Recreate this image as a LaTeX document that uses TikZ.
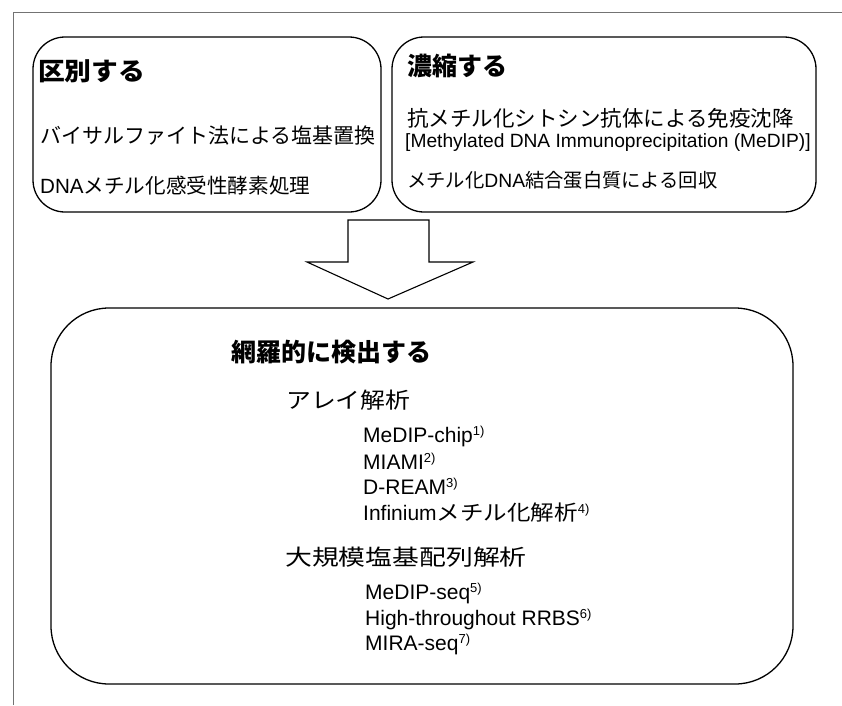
\documentclass[tikz,border=0pt]{standalone}
\usepackage{fontspec}
\setmainfont{Liberation Sans}
\newfontfamily\jp{Noto Sans CJK JP}
\newcommand\fs[1]{\fontsize{#1}{#1}\selectfont}
\newcommand\sref[1]{\raisebox{7pt}{\fontsize{13}{13}\selectfont #1)}}
\newcommand\jpst[2]{{\jp\addfontfeature{FakeStretch=#1}#2}}
\begin{document}
\begin{tikzpicture}[x=1pt,y=-1pt,
  box/.style={draw=black, line width=1.3pt, rounded corners=#1, inner sep=0pt},
  frame/.style={draw=black!55, line width=0.8pt},
  txt/.style={anchor=base west, inner sep=0pt, text=black},
  blockarrow/.style={draw=black, line width=1.1pt, line join=miter, fill=white}
]
\useasboundingbox (0,0) rectangle (842,705);
% outer frame (only top and left edges visible)
\draw[frame] (13,705) -- (13,12) -- (842,12);

% boxes
\node[box=32pt, minimum width=348pt, minimum height=175pt] (L) at (207,124.5) {};
\node[box=32pt, minimum width=424pt, minimum height=175pt] (R) at (604,124.5) {};
\node[box=58pt, minimum width=742pt, minimum height=376pt] (B) at (422,496) {};

% block arrow
\coordinate (a1) at (348,220);
\coordinate (a2) at (429,220);
\coordinate (a3) at (429,262);
\coordinate (a4) at (473,262);
\coordinate (tip) at (388,299);
\coordinate (a6) at (307,262);
\coordinate (a7) at (348,262);
\draw[blockarrow] (a1) -- (a2) -- (a3) -- (a4) -- (tip) -- (a6) -- (a7) -- cycle;

% left box texts
\node[txt] (l0) at (38,80) {\jp\bfseries\fs{25}\addfontfeature{FakeStretch=1.07}区別する};
\node[txt] (l1) at (40,143) {\jp\fs{21}バイサルファイト法による塩基置換};
\node[txt] (l2) at (40,193) {\fs{20.6}DNA{\jp メチル化感受性酵素処理}};

% right box texts
\node[txt] (r0) at (407,75) {\jp\bfseries\fs{25}濃縮する};
\node[txt] (r1) at (407,126) {\jp\fs{21.5}抗メチル化シトシン抗体による免疫沈降};
\node[txt] (r2) at (405,147) {\fs{19.2}[Methylated DNA Immunoprecipitation (MeDIP)]};
\node[txt] (r3) at (407,187.5) {\fs{19.3}{\jp メチル化}DNA{\jp 結合蛋白質による回収}};

% bottom box texts
\node[txt] (b0) at (231,361) {\jp\bfseries\fs{25}網羅的に検出する};
\node[txt] (b1) at (286,408) {\fs{22}\jpst{1.13}{アレイ解析}};
\node[txt] (b2) at (363,442.5) {\fs{21}MeDIP-chip\sref{1}};
\node[txt] (b3) at (363,469.5) {\fs{21}MIAMI\sref{2}};
\node[txt] (b4) at (363,494.5) {\fs{21}D-REAM\sref{3}};
\node[txt] (b5) at (363,520.5) {\fs{21}Infinium\jpst{1.12}{メチル化解析}\sref{4}};
\node[txt] (b6) at (285,565) {\fs{22}\jpst{1.22}{大規模塩基配列解析}};
\node[txt] (b7) at (365,599.5) {\fs{21}MeDIP-seq\sref{5}};
\node[txt] (b8) at (365,625.5) {\fs{21}High-throughout RRBS\sref{6}};
\node[txt] (b9) at (365,650.5) {\fs{21}MIRA-seq\sref{7}};
\end{tikzpicture}
\end{document}
